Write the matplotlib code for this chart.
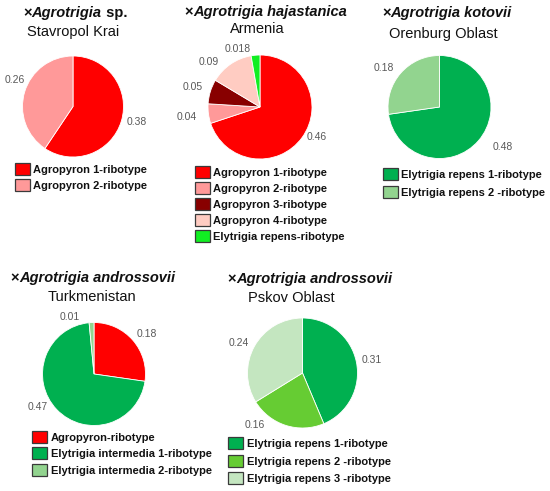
import matplotlib
matplotlib.use("Agg")
import matplotlib.pyplot as plt
from matplotlib.patches import Rectangle

plt.rcParams['font.family'] = ['Liberation Sans', 'DejaVu Sans']

# ---------------- data ----------------
stav_values = [0.38, 0.26]
stav_labels = ["0.38", "0.26"]
stav_names = ["Agropyron 1-ribotype", "Agropyron 2-ribotype"]
stav_colors = ["#FF0000", "#FF9999"]

arm_values = [0.46, 0.04, 0.05, 0.09, 0.018]
arm_labels = ["0.46", "0.04", "0.05", "0.09", "0.018"]
arm_names = ["Agropyron 1-ribotype", "Agropyron 2-ribotype", "Agropyron 3-ribotype",
             "Agropyron 4-ribotype", "Elytrigia repens-ribotype"]
arm_colors = ["#FF0000", "#FF9999", "#880000", "#FFCCC2", "#11EE22"]

ore_values = [0.48, 0.18]
ore_labels = ["0.48", "0.18"]
ore_names = ["Elytrigia repens 1-ribotype", "Elytrigia repens 2 -ribotype"]
ore_colors = ["#00B050", "#92D48F"]

tur_values = [0.18, 0.47, 0.01]
tur_labels = ["0.18", "0.47", "0.01"]
tur_names = ["Agropyron-ribotype", "Elytrigia intermedia 1-ribotype",
             "Elytrigia intermedia 2-ribotype"]
tur_colors = ["#FF0000", "#00B050", "#92D48F"]

psk_values = [0.31, 0.16, 0.24]
psk_labels = ["0.31", "0.16", "0.24"]
psk_names = ["Elytrigia repens 1-ribotype", "Elytrigia repens 2 -ribotype",
             "Elytrigia repens 3 -ribotype"]
psk_colors = ["#00B050", "#66CC33", "#C4E6C0"]

W, H = 550, 491
fig = plt.figure(figsize=(W / 100, H / 100), dpi=100)


def fx(x):
    return x / W


def fy(y):
    return 1 - y / H


def draw_pie(cx, cy, r, values, colors, label_txt, label_pos):
    ax = fig.add_axes([fx(cx - r), fy(cy + r), 2 * r / W, 2 * r / H])
    ax.pie(values, colors=colors, startangle=90, counterclock=False,
           wedgeprops=dict(edgecolor="white", linewidth=0.6))
    ax.set_xlim(-1, 1)
    ax.set_ylim(-1, 1)
    ax.set_aspect("auto")
    ax.axis("off")
    for t, (x, y) in zip(label_txt, label_pos):
        fig.text(fx(x), fy(y), t, fontsize=7.5, color="#595959",
                 ha="center", va="center")


def draw_legend(x0, tx, y_rows, names, colors):
    for y, n, c in zip(y_rows, names, colors):
        fig.patches.append(Rectangle((fx(x0), fy(y + 6)), 15 / W, 12 / H,
                                     transform=fig.transFigure, facecolor=c,
                                     edgecolor="#3a3a3a", linewidth=0.9))
        fig.text(fx(tx), fy(y + 1), n, fontsize=8, fontweight="bold",
                 color="#111111", ha="left", va="center")


renderer = fig.canvas.get_renderer()


def draw_title(cx, cy, italic_part, rest, sub, sub_cx, sub_cy):
    pieces = [("\u00d7", "normal"), (italic_part, "italic")]
    if rest:
        pieces.append((rest, "normal"))
    objs = []
    for s, st in pieces:
        t = fig.text(0, fy(cy), s, fontsize=10.5, fontweight="bold", style=st,
                     ha="left", va="center", color="#111111")
        objs.append(t)
    widths = [o.get_window_extent(renderer).width for o in objs]
    total = sum(widths)
    x = cx - total / 2
    for o, w in zip(objs, widths):
        o.set_x(fx(x))
        x += w
    fig.text(fx(sub_cx), fy(sub_cy), sub, fontsize=10.5, ha="center",
             va="center", color="#111111")


# ---- chart 1: Stavropol ----
draw_title(75, 13, "Agrotrigia", " sp.", "Stavropol Krai", 73, 32)
draw_pie(73, 106.5, 50.5, stav_values, stav_colors, stav_labels,
         [(137, 122), (15, 80)])
draw_legend(15, 33, [169, 185], stav_names, stav_colors)

# ---- chart 2: Armenia ----
draw_title(266, 12, "Agrotrigia hajastanica", "", "Armenia", 257, 29)
draw_pie(260, 107, 52, arm_values, arm_colors, arm_labels,
         [(317, 137), (187, 117), (193, 87), (209, 62), (238, 49)])
draw_legend(195, 213, [172, 188, 204, 220, 236], arm_names, arm_colors)

# ---- chart 3: Orenburg ----
draw_title(447, 13, "Agrotrigia kotovii", "", "Orenburg Oblast", 443, 34)
draw_pie(439.5, 107, 51.5, ore_values, ore_colors, ore_labels,
         [(503, 147), (384, 68)])
draw_legend(383, 401, [174, 192], ore_names, ore_colors)

# ---- chart 4: Turkmenistan ----
draw_title(93, 278, "Agrotrigia androssovii", "", "Turkmenistan", 92, 297)
draw_pie(94, 374, 51.5, tur_values, tur_colors, tur_labels,
         [(147, 334), (38, 407), (70, 317)])
draw_legend(32, 51, [437, 453, 470], tur_names, tur_colors)

# ---- chart 5: Pskov ----
draw_title(310, 279, "Agrotrigia androssovii", "", "Pskov Oblast", 291, 298)
draw_pie(302.5, 373, 55, psk_values, psk_colors, psk_labels,
         [(372, 360), (255, 425), (239, 343)])
draw_legend(228, 247, [443, 461, 478], psk_names, psk_colors)

fig.savefig("out.png", dpi=100, facecolor="white")
